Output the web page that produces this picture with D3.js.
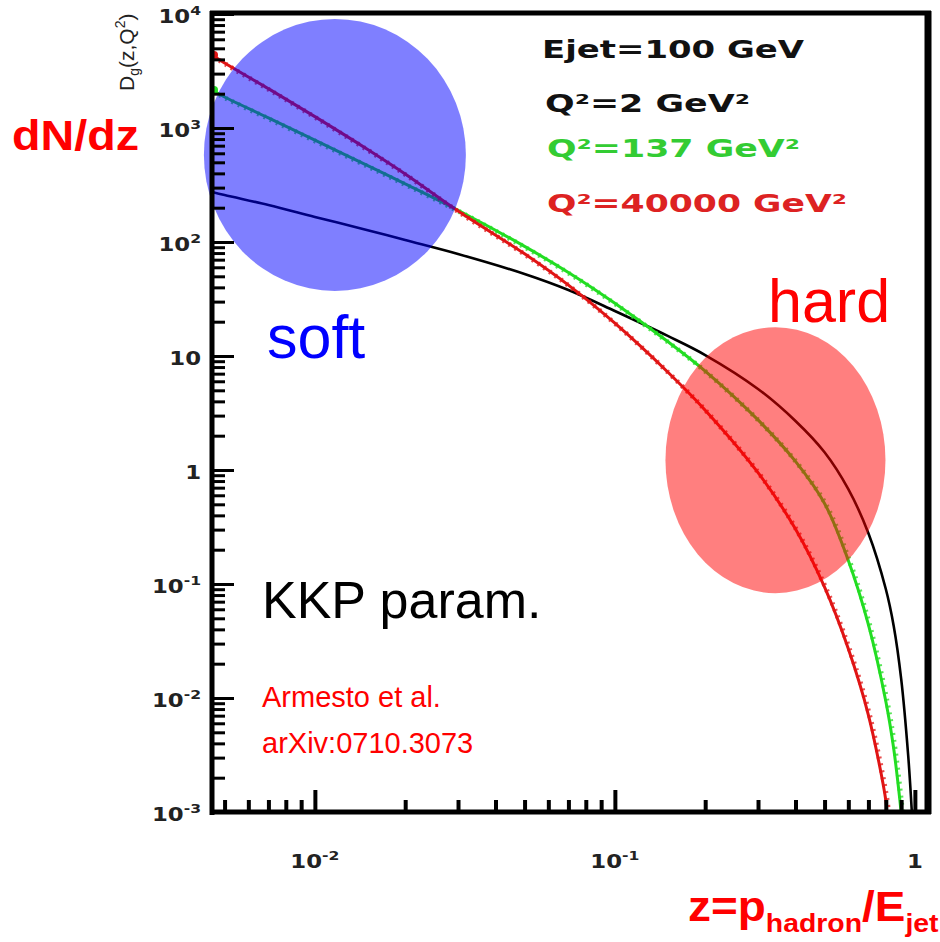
<!DOCTYPE html>
<html>
<head>
<meta charset="utf-8">
<script src="https://cdn.jsdelivr.net/npm/d3@7"></script>
<style>
  html, body { margin: 0; padding: 0; background: #fff; }
  svg { display: block; }
</style>
</head>
<body>
<svg id="chart" width="940" height="942"></svg>
<script>
// Gluon fragmentation function D_g(z,Q^2), KKP parametrisation, E_jet = 100 GeV

// Q^2 = 2 GeV^2
const zQ2 = [0.00454, 0.005, 0.007, 0.01, 0.015, 0.02, 0.03, 0.05, 0.07, 0.1, 0.15, 0.2, 0.3, 0.4, 0.5, 0.6, 0.7, 0.8, 0.85, 0.9, 0.95, 0.977];
const dQ2 = [275, 258, 211, 166, 127, 104, 78.5, 52.4, 37.9, 24.8, 15.0, 10.2, 5.14, 2.69, 1.43, 0.679, 0.279, 0.0904, 0.0429, 0.0148, 0.00313, 0.001];

// Q^2 = 137 GeV^2
const zQ137 = [0.00454, 0.005, 0.007, 0.01, 0.015, 0.02, 0.03, 0.05, 0.07, 0.1, 0.15, 0.2, 0.3, 0.4, 0.5, 0.6, 0.7, 0.8, 0.85, 0.9];
const dQ137 = [2154, 1871, 1227, 782, 468, 324, 190, 91.5, 54.0, 29.0, 13.4, 7.38, 2.75, 1.19, 0.509, 0.161, 0.0441, 0.00938, 0.0036, 0.001];

// Q^2 = 40000 GeV^2
const zQ40000 = [0.00454, 0.005, 0.007, 0.01, 0.015, 0.02, 0.03, 0.05, 0.07, 0.1, 0.15, 0.2, 0.3, 0.4, 0.5, 0.6, 0.7, 0.8, 0.806];
const dQ40000 = [4365, 3718, 2213, 1259, 648, 395, 187, 78.8, 41.9, 19.4, 7.24, 3.35, 0.948, 0.303, 0.0938, 0.027, 0.00708, 0.00127, 0.001];

// axis ranges and labels
const xDomain = [0.00454, 1.106];
const yDomain = [1e-3, 1e4];
const yMajorValues = [1e-3, 1e-2, 1e-1, 1, 10, 100, 1000, 10000];
const yMajorLabels = [["10", "-3"], ["10", "-2"], ["10", "-1"], ["1", ""], ["10", ""], ["10", "2"], ["10", "3"], ["10", "4"]];
const xMajorValues = [0.01, 0.1, 1];
const xMajorLabels = [["10", "-2"], ["10", "-1"], ["1", ""]];

const legendTexts = ["Ejet=100 GeV", "Q²=2 GeV²", "Q²=137 GeV²", "Q²=40000 GeV²"];
const legendColors = ["#111111", "#111111", "#33cc33", "#dd2222"];

// highlighted regions: centre in data units, radii in pixels
const regionSoft = { z: 0.01166, d: 580, rx: 131, ry: 136 };
const regionHard = { z: 0.343, d: 1.22, rx: 110, ry: 133 };

const plot = { left: 212, right: 928, top: 14, bottom: 812 };

const svg = d3.select("#chart");

const x = d3.scaleLog().domain(xDomain).range([plot.left, plot.right]);
const y = d3.scaleLog().domain(yDomain).range([plot.bottom, plot.top]);

const isMajor = v => Math.abs(Math.log10(v) - Math.round(Math.log10(v))) < 1e-6;

svg.append("defs").append("clipPath").attr("id", "plotclip")
  .append("rect")
  .attr("x", plot.left).attr("y", plot.top)
  .attr("width", plot.right - plot.left).attr("height", plot.bottom - plot.top + 3);

// ---- curves ----
const series = [
  { z: zQ2, d: dQ2, color: "#000000", width: 2.6, teeth: false },
  { z: zQ137, d: dQ137, color: "#22dd22", width: 3, teeth: true },
  { z: zQ40000, d: dQ40000, color: "#e01414", width: 3, teeth: true }
];

const line = d3.line()
  .x(p => x(p[0]))
  .y(p => y(p[1]))
  .curve(d3.curveCatmullRom.alpha(0.5));

const curves = svg.append("g").attr("clip-path", "url(#plotclip)");
series.forEach(s => {
  const pts = s.z.map((z, i) => [z, s.d[i]]);
  if (s.teeth) {
    curves.append("path")
      .attr("d", line(pts))
      .attr("fill", "none")
      .attr("stroke", s.color)
      .attr("stroke-width", 5)
      .attr("stroke-dasharray", "2 5")
      .attr("opacity", 0.75)
      .attr("transform", "translate(1.5,1.5)");
  }
  curves.append("path")
    .attr("d", line(pts))
    .attr("fill", "none")
    .attr("stroke", s.color)
    .attr("stroke-width", s.width)
    .attr("stroke-linejoin", "round");
  if (s.teeth) {
    curves.append("circle")
      .attr("cx", x(pts[0][0]) + 2)
      .attr("cy", y(pts[0][1]))
      .attr("r", 4)
      .attr("fill", s.color);
  }
});

// ---- highlighted regions ----
svg.append("ellipse")
  .attr("cx", x(regionSoft.z)).attr("cy", y(regionSoft.d))
  .attr("rx", regionSoft.rx).attr("ry", regionSoft.ry)
  .attr("fill", "#0000ff").attr("fill-opacity", 0.5);

svg.append("ellipse")
  .attr("cx", x(regionHard.z)).attr("cy", y(regionHard.d))
  .attr("rx", regionHard.rx).attr("ry", regionHard.ry)
  .attr("fill", "#ff0000").attr("fill-opacity", 0.5);

// ---- frame and ticks ----
const yMinor = y.ticks().filter(v => !isMajor(v));
const xMinor = x.ticks().filter(v => !isMajor(v));

function styleTicks(g, w) {
  g.select(".domain").remove();
  g.selectAll(".tick line").attr("stroke", "#000").attr("stroke-width", w);
}

svg.append("g").attr("transform", `translate(${plot.left},0)`)
  .call(d3.axisRight(y).tickValues(yMinor).tickSize(13).tickFormat(""))
  .call(g => styleTicks(g, 3));
svg.append("g").attr("transform", `translate(${plot.left},0)`)
  .call(d3.axisRight(y).tickValues(yMajorValues).tickSize(22).tickFormat(""))
  .call(g => styleTicks(g, 3));

svg.append("g").attr("transform", `translate(0,${plot.bottom})`)
  .call(d3.axisTop(x).tickValues(xMinor).tickSize(12).tickFormat(""))
  .call(g => styleTicks(g, 4));
svg.append("g").attr("transform", `translate(0,${plot.bottom})`)
  .call(d3.axisTop(x).tickValues(xMajorValues).tickSize(22).tickFormat(""))
  .call(g => styleTicks(g, 4));

const frame = svg.append("g").attr("stroke", "#000").attr("fill", "none");
frame.append("line").attr("x1", plot.left).attr("x2", plot.left)
  .attr("y1", plot.top - 3).attr("y2", plot.bottom + 3).attr("stroke-width", 5);
frame.append("line").attr("x1", plot.left - 2).attr("x2", plot.right + 3)
  .attr("y1", plot.bottom).attr("y2", plot.bottom).attr("stroke-width", 5);
frame.append("line").attr("x1", plot.left - 2).attr("x2", plot.right + 3)
  .attr("y1", plot.top - 1).attr("y2", plot.top - 1).attr("stroke-width", 5);
frame.append("line").attr("x1", plot.right).attr("x2", plot.right)
  .attr("y1", plot.top - 3).attr("y2", plot.bottom + 2).attr("stroke-width", 7);

// ---- tick labels ----
function powerLabel(g, parts, anchor) {
  const t = g.append("text")
    .attr("text-anchor", anchor)
    .attr("font-family", "'DejaVu Sans', sans-serif")
    .attr("font-weight", "bold")
    .attr("font-size", 19)
    .attr("fill", "#222");
  t.append("tspan").text(parts[0]);
  if (parts[1]) {
    t.append("tspan").attr("dy", -8).attr("font-size", 13).text(parts[1]);
  }
  return t;
}

yMajorValues.forEach((v, i) => {
  const g = svg.append("g")
    .attr("transform", `translate(201,${y(v) + 9}) scale(1.2,1)`);
  powerLabel(g, yMajorLabels[i], "end");
});

xMajorValues.forEach((v, i) => {
  const g = svg.append("g")
    .attr("transform", `translate(${x(v)},868) scale(1.2,1)`);
  powerLabel(g, xMajorLabels[i], "middle");
});

// fit a text group horizontally to a given width, left edge at x0
function fitted(x0, baseline, width) {
  const g = svg.append("g");
  const t = g.append("text");
  return {
    g, t,
    done() {
      const w = t.node().getBBox().width;
      g.attr("transform", `translate(${x0},${baseline}) scale(${width / w},1)`);
    }
  };
}

// ---- y-axis title ----
const yt = svg.append("text")
  .attr("transform", "translate(134,91) rotate(-90)")
  .attr("font-family", "'Liberation Sans', Arial, sans-serif")
  .attr("font-size", 21)
  .attr("fill", "#222");
yt.append("tspan").text("D");
yt.append("tspan").attr("dy", 5).attr("font-size", 14).text("g");
yt.append("tspan").attr("dy", -5).text("(z,Q");
yt.append("tspan").attr("dy", -9).attr("font-size", 14).text("2");
yt.append("tspan").attr("dy", 9).text(")");

// ---- legend ----
const legendX = [542, 545, 547, 547];
const legendY = [58, 112, 157, 212];
const legendW = [263, 205, 253, 300];
legendTexts.forEach((s, i) => {
  const f = fitted(legendX[i], legendY[i], legendW[i]);
  f.t.attr("font-family", "'DejaVu Sans', sans-serif")
    .attr("font-weight", "bold")
    .attr("font-size", 25)
    .attr("fill", legendColors[i])
    .text(s);
  f.done();
});

// ---- annotations ----
const dn = fitted(12, 150, 127);
dn.t.attr("font-family", "'Liberation Sans', Arial, sans-serif")
  .attr("font-weight", "bold").attr("font-size", 42).attr("fill", "#ff0000")
  .text("dN/dz");
dn.done();

svg.append("text").attr("x", 267).attr("y", 358)
  .attr("font-family", "'Liberation Sans', Arial, sans-serif")
  .attr("font-size", 61).attr("fill", "#0000ff").text("soft");

svg.append("text").attr("x", 768).attr("y", 322)
  .attr("font-family", "'Liberation Sans', Arial, sans-serif")
  .attr("font-size", 61).attr("fill", "#ff0000").text("hard");

svg.append("text").attr("x", 262).attr("y", 618)
  .attr("font-family", "'Liberation Sans', Arial, sans-serif")
  .attr("font-size", 52).attr("fill", "#000").text("KKP param.");

svg.append("text").attr("x", 262).attr("y", 707)
  .attr("font-family", "'Liberation Sans', Arial, sans-serif")
  .attr("font-size", 29).attr("fill", "#ff0000").text("Armesto et al.");

svg.append("text").attr("x", 262).attr("y", 753)
  .attr("font-family", "'Liberation Sans', Arial, sans-serif")
  .attr("font-size", 29).attr("fill", "#ff0000").text("arXiv:0710.3073");

// x-axis title
const zt = fitted(688, 921, 251);
zt.t.attr("font-family", "'Liberation Sans', Arial, sans-serif")
  .attr("font-weight", "bold").attr("font-size", 42).attr("fill", "#ff0000");
zt.t.append("tspan").text("z=p");
zt.t.append("tspan").attr("dy", 11).attr("font-size", 26).text("hadron");
zt.t.append("tspan").attr("dy", -11).text("/E");
zt.t.append("tspan").attr("dy", 11).attr("font-size", 26).text("jet");
zt.done();
</script>
</body>
</html>
